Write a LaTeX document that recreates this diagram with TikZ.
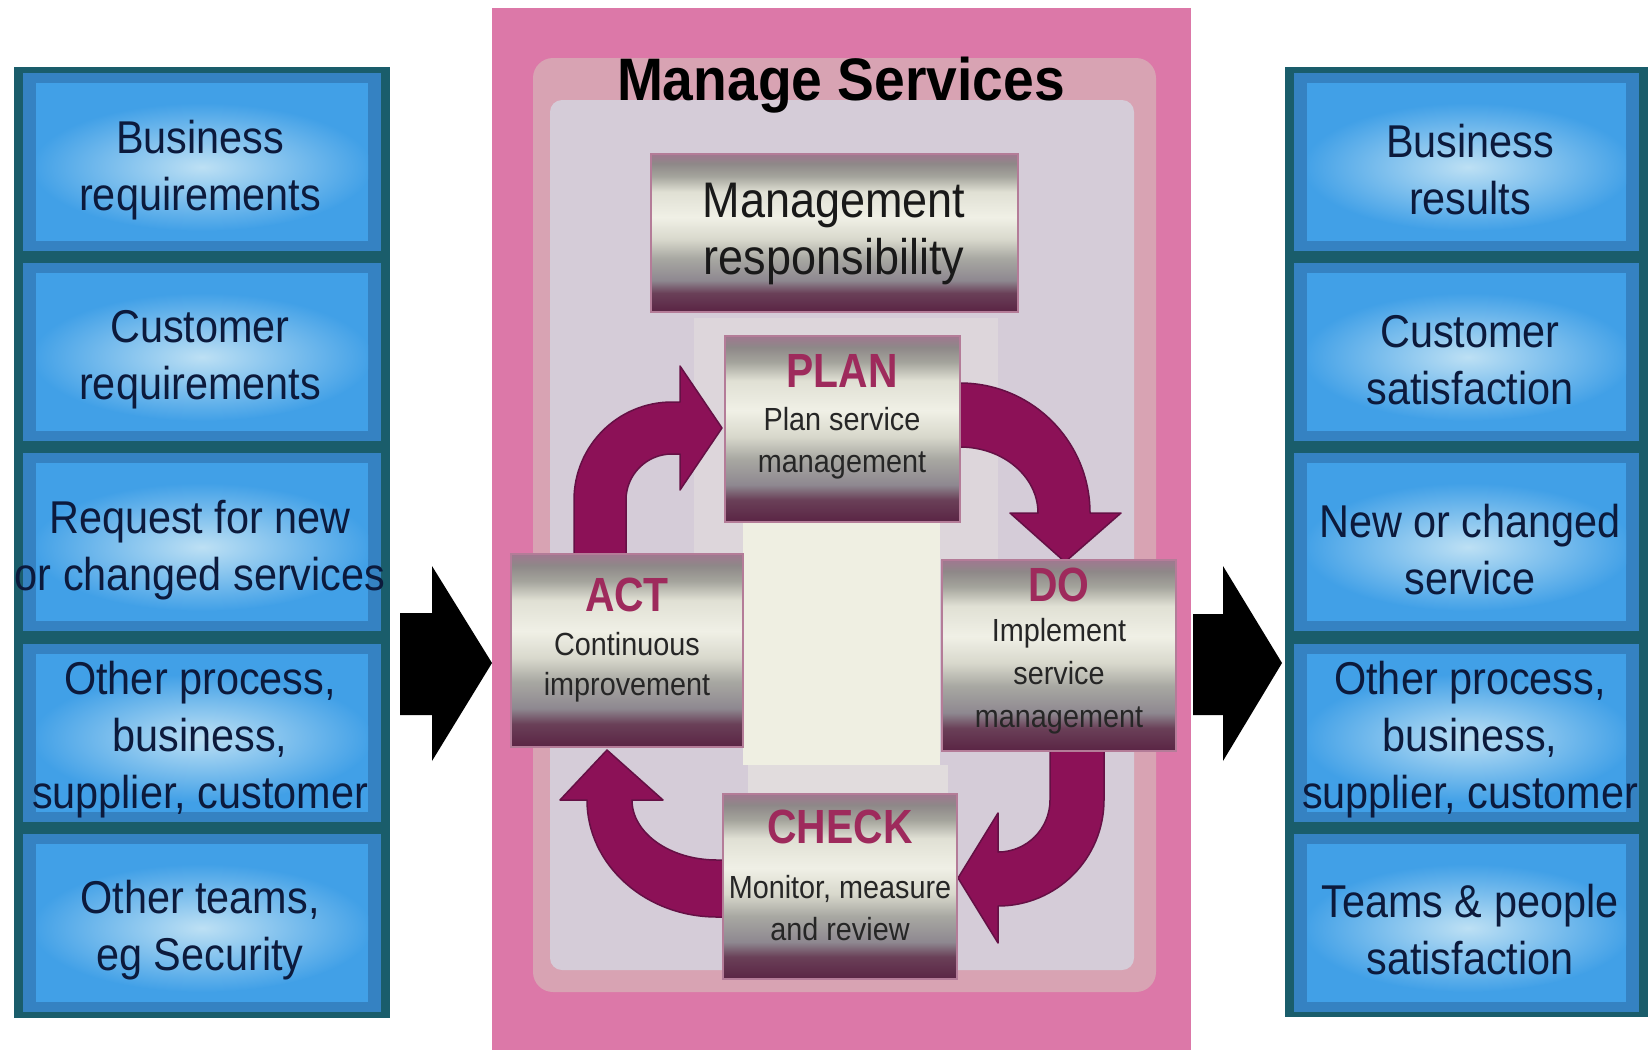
\documentclass[tikz,border=0pt]{standalone}
\usepackage{fontspec}
\setmainfont{Liberation Sans}
\definecolor{pinkout}{HTML}{DC78A8}
\definecolor{pinkframe}{HTML}{D8A3B3}
\definecolor{lavender}{HTML}{D5CCD8}
\definecolor{cream}{HTML}{EFEFE2}
\definecolor{tealdark}{HTML}{1A5D6B}
\definecolor{bmid}{HTML}{3582C2}
\definecolor{binner}{HTML}{41A0E7}
\definecolor{bglow}{HTML}{BDE0F4}
\definecolor{navy}{HTML}{0C1A3C}
\definecolor{maroon}{HTML}{8C1157}
\definecolor{maroonedge}{HTML}{651045}
\definecolor{labelred}{HTML}{9E2A5C}
\definecolor{metalborder}{HTML}{B47C98}
\definecolor{mA}{HTML}{5A2444}
\definecolor{mB}{HTML}{6A4058}
\definecolor{mC}{HTML}{8E8890}
\definecolor{mD}{HTML}{A8A8A2}
\definecolor{mE}{HTML}{D8D8CC}
\definecolor{mF}{HTML}{F0F0E6}
\definecolor{mG}{HTML}{E0E0D4}
\definecolor{mH}{HTML}{A4A49C}
\definecolor{mI}{HTML}{8E8888}
\definecolor{mJ}{HTML}{A07890}
\pgfdeclareverticalshading{metal}{100bp}{color(0bp)=(mA); color(25bp)=(mA); color(31bp)=(mB); color(35bp)=(mC); color(42bp)=(mD); color(48bp)=(mE); color(55bp)=(mF); color(63bp)=(mG); color(68bp)=(mH); color(72bp)=(mI); color(75bp)=(mJ); color(100bp)=(mJ)}
\tikzset{
  bluetext/.style={font=\fontsize{46}{57}\selectfont, align=center, text=navy, xscale=0.9, inner sep=0pt},
  metalbox/.style={shade, shading=metal, draw=metalborder, line width=2pt, inner sep=0pt},
  steplabel/.style={font=\fontsize{48}{48}\selectfont\bfseries, text=labelred, xscale=0.85, anchor=base, inner sep=0pt},
  stepbody/.style={font=\fontsize{32}{42}\selectfont, align=center, text=black!85, xscale=0.9, inner sep=0pt},
  cyclearrow/.style={fill=maroon, draw=maroonedge, line width=1.5pt, line join=round},
  blockarrow/.style={fill=black}
}
\begin{document}
\begin{tikzpicture}[x=1pt,y=-1pt]
\useasboundingbox (0,0) rectangle (1648,1050);
\fill[white] (0,0) rectangle (1648,1050);

% ---- central panel ----
\fill[pinkout] (492,8) rectangle (1191,1050);
\fill[pinkframe, rounded corners=20pt] (533,58) rectangle (1156,992);
\fill[lavender, rounded corners=12pt] (550,100) rectangle (1134,970);
\fill[cream!30!lavender] (694,318) rectangle (998,560);
\fill[cream] (743,520) rectangle (940,765);
\fill[cream!45!lavender] (748,765) rectangle (948,793);

% ---- cycle arrows ----
\draw[cyclearrow] (574,556) -- (574,500) arc[start angle=180,end angle=270,radius=98]
  -- (680,402) -- (680,366) -- (722,428) -- (680,490) -- (680,454) -- (672,454)
  arc[start angle=270,end angle=180,radius=46] -- (626,556) -- cycle;
\draw[cyclearrow] (945,383) -- (960,383) arc[start angle=270,end angle=360,radius=130]
  -- (1121,513) -- (1065,562) -- (1010,513) -- (1038,513)
  arc[start angle=360,end angle=270,x radius=78,y radius=66] -- (945,447) -- cycle;
\draw[cyclearrow] (1104,745) -- (1104,800) arc[start angle=0,end angle=90,radius=106]
  -- (998,943) -- (958,878) -- (998,813) -- (998,852)
  arc[start angle=90,end angle=0,radius=52] -- (1050,745) -- cycle;
\draw[cyclearrow] (730,917) -- (717,917) arc[start angle=90,end angle=180,x radius=130,y radius=117]
  -- (560,800) -- (607,750) -- (663,800) -- (632,800)
  arc[start angle=180,end angle=90,x radius=85,y radius=60] -- (730,860) -- cycle;

% ---- metal boxes ----
\node[metalbox, minimum width=367pt, minimum height=158pt] (mgmt) at (834.5,233) {};
\node[metalbox, minimum width=235pt, minimum height=186pt] (plan) at (842.5,429) {};
\node[metalbox, minimum width=234pt, minimum height=191pt] (do) at (1059,655.5) {};
\node[metalbox, minimum width=232pt, minimum height=193pt] (act) at (627,650.5) {};
\node[metalbox, minimum width=234pt, minimum height=185pt] (check) at (840,886.5) {};

\node[font=\fontsize{50}{57}\selectfont, align=center, text=black!90, xscale=0.9, inner sep=0pt] (mgmttext) at (834,234) {Management\\responsibility};

\node[steplabel] (planlabel) at (842,387) {PLAN};
\node[stepbody] (plantext) at (842,443) {Plan service\\management};
\node[steplabel] (dolabel) at (1059,601) {DO};
\node[stepbody, font=\fontsize{32}{43}\selectfont] (dotext) at (1059,676) {Implement\\service\\management};
\node[steplabel] (actlabel) at (627,611) {ACT};
\node[stepbody, font=\fontsize{32}{40}\selectfont] (acttext) at (627,667) {Continuous\\improvement};
\node[steplabel] (checklabel) at (840,843) {CHECK};
\node[stepbody] (checktext) at (840,908) {Monitor, measure\\and review};

\node[font=\fontsize{60}{60}\selectfont\bfseries, text=black, xscale=0.92, anchor=base, inner sep=0pt] (title) at (841,100) {Manage Services};

% ---- blue columns ----
\fill[tealdark] (14,67) rectangle (390,1018);
\fill[tealdark] (1285,67) rectangle (1648,1017);
\foreach \t in {67,257,447,638,828} {
  \fill[bmid] (23,{\t+6}) rectangle (381,{\t+184});
  \fill[binner] (36,{\t+16}) rectangle (368,{\t+174});
  \begin{scope}
    \clip (36,{\t+16}) rectangle (368,{\t+174});
    \shade[inner color=bglow, outer color=binner] (202,{\t+100}) ellipse [x radius=170, y radius=64];
  \end{scope}
  \fill[bmid] (1294,{\t+6}) rectangle (1639,{\t+184});
  \fill[binner] (1307,{\t+16}) rectangle (1626,{\t+174});
  \begin{scope}
    \clip (1307,{\t+16}) rectangle (1626,{\t+174});
    \shade[inner color=bglow, outer color=binner] (1468,{\t+100}) ellipse [x radius=165, y radius=64];
  \end{scope}
}
\node[bluetext] (L1) at (200,170) {Business\\requirements};
\node[bluetext] (L2) at (200,360) {Customer\\requirements};
\node[bluetext] (L3) at (200,550) {Request for new\\or changed services};
\node[bluetext] (L4) at (200,740) {Other process,\\business,\\supplier, customer};
\node[bluetext] (L5) at (200,930) {Other teams,\\eg Security};

\node[bluetext] (R1) at (1470,170) {Business\\results};
\node[bluetext] (R2) at (1470,360) {Customer\\satisfaction};
\node[bluetext] (R3) at (1470,550) {New or changed\\service};
\node[bluetext] (R4) at (1470,740) {Other process,\\business,\\supplier, customer};
\node[bluetext] (R5) at (1470,930) {Teams \& people\\satisfaction};

% ---- block arrows ----
\fill[blockarrow] (400,613) -- (432,613) -- (432,566) -- (492,663) -- (432,761) -- (432,715) -- (400,715) -- cycle;
\fill[blockarrow] (1193,614) -- (1223,614) -- (1223,566) -- (1282,663) -- (1223,761) -- (1223,715) -- (1193,715) -- cycle;
\end{tikzpicture}
\end{document}
